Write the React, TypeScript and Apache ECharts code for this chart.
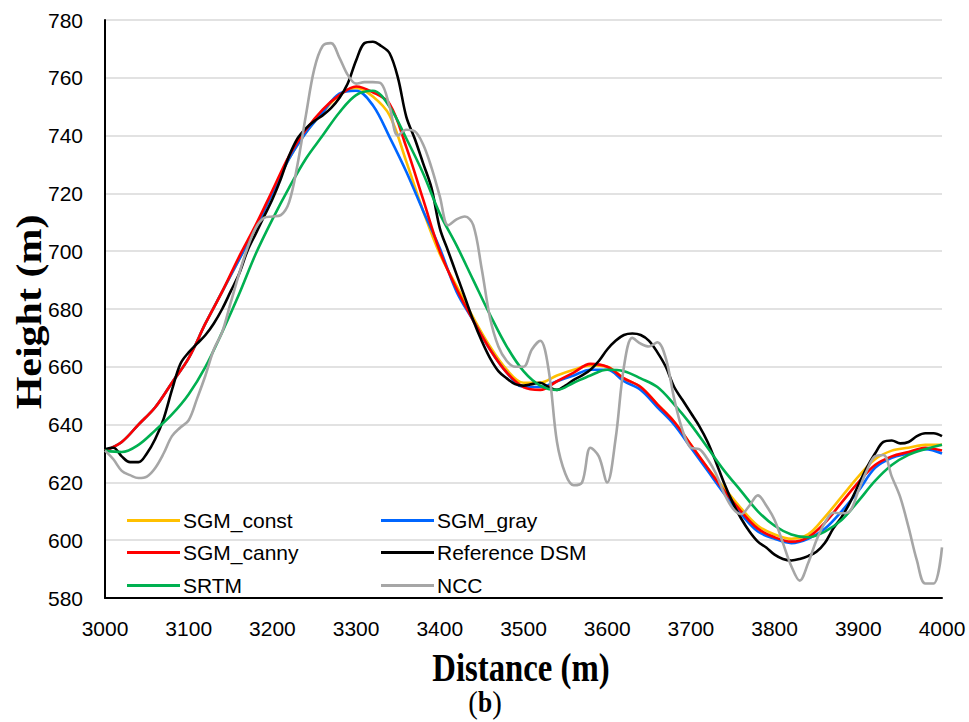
import React, { useEffect, useRef } from "react";
import * as echarts from "echarts";

// Distance samples (m)
const distance20 = [
  3000, 3020, 3040, 3060, 3080, 3100, 3120, 3140, 3160, 3180,
  3200, 3220, 3240, 3260, 3280, 3300, 3320, 3340, 3360, 3380,
  3400, 3420, 3440, 3460, 3480, 3500, 3520, 3540, 3560, 3580,
  3600, 3620, 3640, 3660, 3680, 3700, 3720, 3740, 3760, 3780,
  3800, 3820, 3840, 3860, 3880, 3900, 3920, 3940, 3960, 3980, 4000,
];
const distance10 = [
  3000, 3010, 3020, 3030, 3040, 3050, 3060, 3070, 3080, 3090,
  3100, 3110, 3120, 3130, 3140, 3150, 3160, 3170, 3180, 3190,
  3200, 3210, 3220, 3230, 3240, 3250, 3260, 3270, 3280, 3290,
  3300, 3310, 3320, 3330, 3340, 3350, 3360, 3370, 3380, 3390,
  3400, 3410, 3420, 3430, 3440, 3450, 3460, 3470, 3480, 3490,
  3500, 3510, 3520, 3530, 3540, 3550, 3560, 3570, 3580, 3590,
  3600, 3610, 3620, 3630, 3640, 3650, 3660, 3670, 3680, 3690,
  3700, 3710, 3720, 3730, 3740, 3750, 3760, 3770, 3780, 3790,
  3800, 3810, 3820, 3830, 3840, 3850, 3860, 3870, 3880, 3890,
  3900, 3910, 3920, 3930, 3940, 3950, 3960, 3970, 3980, 3990, 4000,
];

// Heights (m) on distance20
const sgmConst = [
  631, 634, 640, 646, 654.5, 663, 675, 686, 697, 708,
  720, 732, 741, 748, 754, 756.5, 753.5, 747, 731, 714,
  699, 688, 677, 667, 659, 654.5, 654.5, 657, 659, 660.5,
  660, 656, 653, 647, 641, 633, 625, 618, 611, 605,
  602, 600.5, 602, 608, 615, 622, 628, 631, 632, 633, 633,
];
const sgmGray = [
  631, 634, 640, 646, 654.5, 663, 675, 686, 697, 708,
  720, 732, 741, 748, 754.5, 755.5, 750.5, 739.5, 727.5, 714,
  701, 686, 676, 666, 658, 653, 653, 655, 657, 659,
  659, 655, 652, 646, 640, 632, 624, 616, 609, 603,
  600.5, 599, 600.5, 604, 610, 617, 625, 628.5, 630, 631.5, 630,
];
const sgmCanny = [
  631, 634, 640, 646, 654.5, 663, 675, 686, 698, 709,
  721, 733, 742, 749, 754, 757, 755, 751, 736, 718,
  700, 687, 676, 666, 658, 653, 652, 655, 658, 661,
  660, 656, 653, 647, 641, 633, 625, 617, 610, 604,
  601, 599.5, 601, 606, 613, 620, 626, 629, 630.5, 632, 631,
];
const srtm = [
  631, 630.5, 633, 638, 643.5, 650.5, 660, 672, 685, 699,
  711, 722, 732, 740, 748, 754, 755.5, 750, 739, 727,
  713, 702, 690, 678, 667, 658.5, 653.5, 652, 654.5, 657,
  659, 658.5, 656, 653, 647, 640, 632, 624, 617, 610,
  605, 602, 601, 603, 607, 613.5, 620.5, 626, 629.5, 631.5, 633,
];

// Heights (m) on distance10
const referenceDSM = [
  631.5, 632, 629, 627, 627, 630, 635, 642, 652, 661,
  665, 668, 671, 675, 680, 686, 692, 700, 706, 712,
  718, 725, 733, 739, 742.5, 745, 747, 749.5, 753, 758,
  766, 772, 772.5, 771, 768.5, 760, 746.5, 739, 730.5, 722,
  708, 700, 692, 684, 676, 669, 663, 658.5, 656, 654,
  653.5, 654, 654.5, 653, 652, 653.5, 655.5, 657, 659, 662,
  666, 669, 671, 671.5, 671, 669, 665, 660, 653, 648.5,
  644, 639.5, 634, 627, 619.5, 613, 607.5, 603, 599.5, 597.5,
  595, 593.5, 593, 593.5, 594.5, 596, 599, 604, 608, 613,
  619, 625, 630, 634, 634.5, 633.5, 634, 636, 637, 637, 636,
];
const ncc = [
  631, 628, 624, 622.5, 621.5, 622, 625, 630, 636, 639,
  641.5, 649, 657, 666, 672, 682, 692, 701, 708, 711.5,
  712, 712.5, 717, 730, 747, 763, 771, 772, 767, 761,
  758, 758.5, 758.5, 758, 750, 740, 742, 741.5, 737, 729,
  719, 709, 711, 712, 709, 694, 677, 667, 662, 660,
  660, 666, 669, 659, 634, 623, 619, 620, 632, 629,
  620, 635, 660, 670, 668, 667, 668.5, 663, 649, 638,
  632, 631.5, 628, 623, 616, 611, 609, 612, 615.5, 612,
  607, 599, 591, 586, 592, 600, 606, 609.5, 609.3, 610,
  617, 624, 629, 629.5, 622, 615, 604.5, 593, 585, 585, 597.5,
];

const seriesNames = ["SGM_const", "SGM_gray", "SGM_canny", "Reference DSM", "SRTM", "NCC"];
const seriesColors = ["#FFC000", "#0066FF", "#FF0000", "#000000", "#00B050", "#A6A6A6"];
const xTickMin = 3000;
const xTickMax = 4000;
const yTickMin = 580;
const yTickMax = 780;

export default function App() {
  const ref = useRef<HTMLDivElement>(null);

  useEffect(() => {
    if (!ref.current) return;
    const chart = echarts.init(ref.current, null, { renderer: "svg" });
    const pairs = (xs: number[], ys: number[]) => xs.map((x, i) => [x, ys[i]]);
    const seriesData = [
      pairs(distance20, sgmConst),
      pairs(distance20, sgmGray),
      pairs(distance20, sgmCanny),
      pairs(distance10, referenceDSM),
      pairs(distance20, srtm),
      pairs(distance10, ncc),
    ];
    const legendCols = [127, 381];
    const legendRows = [510, 542, 575];
    const font = "'Liberation Sans', Arial, sans-serif";
    const serif = "'Liberation Serif', 'Times New Roman', serif";
    const centered = { align: "center", verticalAlign: "middle", textAlign: "center", textVerticalAlign: "middle" };

    chart.setOption({
      animation: false,
      backgroundColor: "#ffffff",
      grid: { left: 105, right: 27, top: 20, bottom: 124 },
      xAxis: {
        type: "value",
        min: xTickMin,
        max: xTickMax,
        interval: 100,
        axisLine: { lineStyle: { color: "#000", width: 2 } },
        axisTick: { show: false },
        splitLine: { show: false },
        axisLabel: {
          color: "#000",
          fontSize: 21,
          fontFamily: font,
          margin: 20,
          formatter: (v: number) => String(v),
        },
      },
      yAxis: {
        type: "value",
        min: yTickMin,
        max: yTickMax,
        interval: 20,
        axisLine: { show: true, lineStyle: { color: "#000", width: 2 } },
        axisTick: { show: false },
        splitLine: { lineStyle: { color: "#D9D9D9", width: 1.5 } },
        axisLabel: {
          color: "#000",
          fontSize: 21,
          fontFamily: font,
          margin: 22,
          formatter: (v: number) => String(v),
        },
      },
      legend: seriesNames.map((name, i) => ({
        data: [name],
        left: legendCols[i % 2],
        top: legendRows[Math.floor(i / 2)],
        padding: 0,
        itemWidth: 53,
        itemHeight: 3,
        icon: "rect",
        selectedMode: false,
        textStyle: { color: "#000", fontSize: 21, fontFamily: font, padding: [0, 0, 0, -2] },
      })),
      series: seriesNames.map((name, i) => ({
        name,
        type: "line",
        data: seriesData[i],
        smooth: 0.35,
        symbol: "none",
        showSymbol: false,
        lineStyle: { color: seriesColors[i], width: 2.6 },
        itemStyle: { color: seriesColors[i] },
        z: 2 + i,
      })),
      graphic: [
        {
          type: "text",
          x: 29,
          y: 312,
          rotation: Math.PI / 2,
          scaleY: 0.85,
          style: { text: "Height (m)", fontSize: 42, fontWeight: "bold", fontFamily: serif, fill: "#000", ...centered },
        },
        {
          type: "text",
          x: 521,
          y: 667,
          scaleX: 0.82,
          style: { text: "Distance (m)", fontSize: 40, fontWeight: "bold", fontFamily: serif, fill: "#000", ...centered },
        },
        {
          type: "text",
          x: 473,
          y: 702,
          scaleX: 0.9,
          style: { text: "(", fontSize: 32, fontWeight: "normal", fontFamily: serif, fill: "#000", ...centered },
        },
        {
          type: "text",
          x: 485,
          y: 702,
          scaleX: 0.85,
          style: { text: "b", fontSize: 30, fontWeight: "bold", fontFamily: serif, fill: "#000", ...centered },
        },
        {
          type: "text",
          x: 497,
          y: 702,
          scaleX: 0.9,
          style: { text: ")", fontSize: 32, fontWeight: "normal", fontFamily: serif, fill: "#000", ...centered },
        },
      ],
    });
    return () => chart.dispose();
  }, []);

  return (
    <div
      ref={ref}
      style={{ position: "absolute", left: 0, top: 0, width: 969, height: 722, background: "#fff" }}
    />
  );
}
